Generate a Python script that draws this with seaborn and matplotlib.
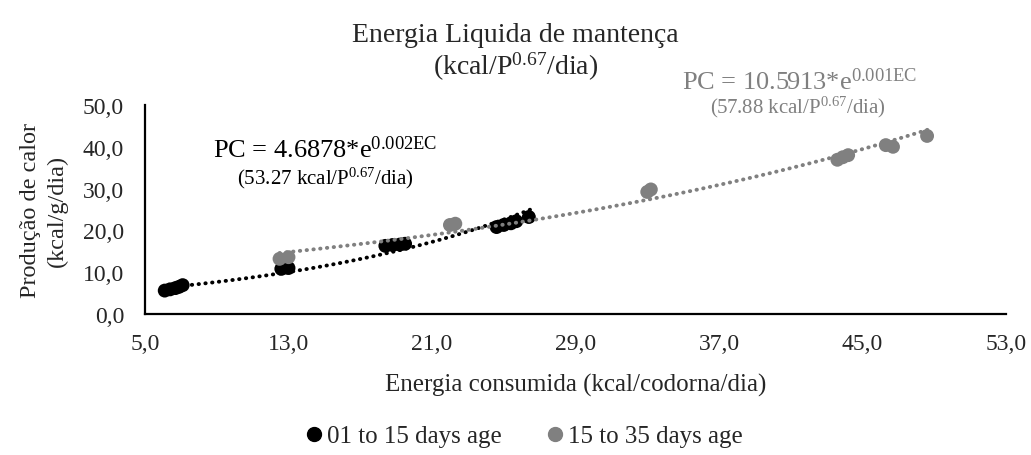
import numpy as np
import pandas as pd
import matplotlib
matplotlib.use("Agg")
import matplotlib.pyplot as plt
from matplotlib.lines import Line2D
import seaborn as sns

# ---- data ----
ec_young = [6.1, 6.4, 6.7, 6.9, 7.1, 12.6, 13.0, 18.4, 18.8, 19.2, 19.5, 24.6, 25.0, 25.4, 25.7, 26.4]
pc_young = [5.6, 5.9, 6.2, 6.5, 6.9, 10.8, 11.0, 16.3, 16.5, 16.6, 16.8, 20.8, 21.3, 21.7, 22.2, 23.2]
ec_old = [12.5, 13.0, 22.0, 22.3, 33.0, 33.2, 43.6, 43.9, 44.2, 46.3, 46.7, 48.6]
pc_old = [13.2, 13.6, 21.3, 21.6, 29.2, 29.8, 36.9, 37.5, 38.0, 40.4, 40.0, 42.6]
groups = ["01 to 15 days age", "15 to 35 days age"]
xticks = [5.0, 13.0, 21.0, 29.0, 37.0, 45.0, 53.0]
yticks = [0.0, 10.0, 20.0, 30.0, 40.0, 50.0]

BLACK = "#000000"
GRAY = "#808080"

sns.set_style("white")
plt.rcParams["font.family"] = ["Liberation Serif", "DejaVu Serif"]
plt.rcParams["mathtext.fontset"] = "custom"
plt.rcParams["mathtext.rm"] = "Liberation Serif"
plt.rcParams["mathtext.it"] = "Liberation Serif:italic"
plt.rcParams["mathtext.bf"] = "Liberation Serif:bold"

df = pd.DataFrame({
    "EC": ec_young + ec_old,
    "PC": pc_young + pc_old,
    "grupo": [groups[0]] * len(ec_young) + [groups[1]] * len(ec_old),
})

fig = plt.figure(figsize=(10.31, 4.56), dpi=100)
ax = fig.add_axes([145 / 1031, 1 - 315 / 456, (1006 - 145) / 1031, (315 - 106) / 456])

# exponential trend lines (fit of log PC on EC)
for xs, ys, col in [(ec_young, pc_young, BLACK), (ec_old, pc_old, GRAY)]:
    xs = np.asarray(xs); ys = np.asarray(ys)
    b, a = np.polyfit(xs, np.log(ys), 1)
    xx = np.linspace(xs.min(), xs.max() + 0.3, 100)
    ax.plot(xx, np.exp(a + b * xx), color=col, lw=2.8,
            linestyle=(0, (0.1, 1.65)), dash_capstyle="round", zorder=3)

sns.scatterplot(data=df, x="EC", y="PC", hue="grupo", palette=[BLACK, GRAY],
                s=100, edgecolor="none", ax=ax, legend=False, zorder=2)

TICK_FS = 17
ax.set_xlim(5, 53)
ax.set_ylim(0, 50)
ax.set_xticks(xticks)
ax.set_yticks(yticks)
ax.set_xticklabels([f"{v:.1f}".replace(".", ",") for v in xticks], fontsize=TICK_FS)
ax.set_yticklabels([f"{v:.1f}".replace(".", ",") for v in yticks], fontsize=TICK_FS)
ax.tick_params(axis="both", length=0)
ax.tick_params(axis="x", pad=14)
ax.tick_params(axis="y", pad=15)
for s in ["top", "right"]:
    ax.spines[s].set_visible(False)
for s in ["left", "bottom"]:
    ax.spines[s].set_color("black")
    ax.spines[s].set_linewidth(1.6)
ax.grid(False)

ax.set_xlabel("Energia consumida (kcal/codorna/dia)", fontsize=18, labelpad=13)
ax.set_ylabel("Produção de calor\n(kcal/g/dia)", fontsize=17.5, labelpad=11, linespacing=1.35)

fig.text(0.5, 1 - 53 / 456, "Energia Liquida de mantença\n(kcal/P$^{\\mathrm{0.67}}$/dia)",
         ha="center", va="center", fontsize=20, linespacing=1.1)

fig.text(213 / 1031, 1 - 150 / 456, "PC = 4.6878*e$^{\\mathrm{0.002EC}}$",
         ha="left", va="center", fontsize=19, color=BLACK)
fig.text(237 / 1031, 1 - 178 / 456, "(53.27 kcal/P$^{\\mathrm{0.67}}$/dia)",
         ha="left", va="center", fontsize=15, color=BLACK)
fig.text(682 / 1031, 1 - 82 / 456, "PC = 10.5913*e$^{\\mathrm{0.001EC}}$",
         ha="left", va="center", fontsize=19, color=GRAY)
fig.text(710 / 1031, 1 - 107 / 456, "(57.88 kcal/P$^{\\mathrm{0.67}}$/dia)",
         ha="left", va="center", fontsize=15, color=GRAY)

handles = [Line2D([], [], marker="o", ls="none", color=BLACK, markersize=10),
           Line2D([], [], marker="o", ls="none", color=GRAY, markersize=10)]
fig.legend(handles, groups, loc="center", bbox_to_anchor=(522 / 1031, 1 - 437 / 456),
           ncol=2, frameon=False, fontsize=18, handletextpad=0.05, columnspacing=1.6,
           handlelength=1.0)

fig.savefig("out.png", dpi=100)
